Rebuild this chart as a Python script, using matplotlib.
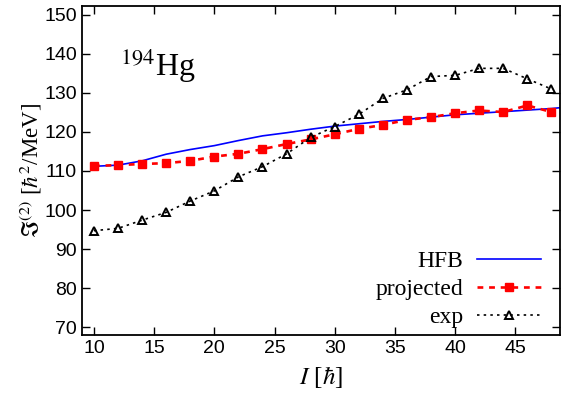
import numpy as np
import matplotlib
matplotlib.use('Agg')
import matplotlib.pyplot as plt

plt.rcParams['mathtext.fontset'] = 'stix'

# spin values
I_pts = [10, 12, 14, 16, 18, 20, 22, 24, 26, 28, 30, 32, 34, 36, 38, 40, 42, 44, 46, 48]

# HFB (smooth curve)
I_hfb = [10, 12, 14, 16, 18, 20, 22, 24, 26, 28, 30, 32, 34, 36, 38, 40, 42, 44, 46, 48, 49]
J_hfb = [111.2, 111.5, 112.6, 114.3, 115.5, 116.5, 117.8, 119.0, 119.8, 120.7, 121.5,
         122.1, 122.7, 123.2, 123.8, 124.4, 124.8, 125.2, 125.6, 126.0, 126.3]

# projected
J_proj = [111.3, 111.5, 111.8, 112.0, 112.6, 113.7, 114.4, 115.6, 116.9, 118.1,
          119.4, 120.8, 121.8, 123.1, 123.8, 124.8, 125.5, 125.1, 126.8, 125.1]

# experiment
J_exp = [94.7, 95.3, 97.4, 99.4, 102.3, 104.9, 108.5, 111.1, 114.4, 118.6,
         121.4, 124.5, 128.6, 130.8, 134.2, 134.5, 136.3, 136.3, 133.6, 131.0]

fig = plt.figure(figsize=(5.61, 3.94), dpi=100)
ax = fig.add_axes([0.146, 0.150, 0.852, 0.835])

ax.plot(I_hfb, J_hfb, '-', color='#0000ff', lw=1.2, label='HFB')
ax.plot(I_pts, J_proj, color='#ff0000', ls=(0, (2.2, 2.2)), lw=1.9, marker='s', ms=6,
        label='projected')
ax.plot(I_pts, J_exp, color='black', ls=(0, (1.5, 2.5)), lw=1.2, marker='^', ms=5.5,
        mfc='none', mec='black', mew=1.4, label='exp')

ax.set_xlim(9, 48.7)
ax.set_ylim(68, 152.3)
ax.set_xticks([10, 15, 20, 25, 30, 35, 40, 45])
ax.set_yticks(np.arange(70, 151, 10))
ax.tick_params(direction='in', top=True, right=True, length=6, width=1, labelsize=14)
for lab in ax.get_xticklabels() + ax.get_yticklabels():
    lab.set_family('Liberation Sans')
for s in ax.spines.values():
    s.set_linewidth(1.3)

ax.set_xlabel(r'$I$ [$\hbar$]', family='Liberation Serif', fontsize=18, labelpad=5)
ax.set_ylabel(r'$\Im^{(2)}$ [$\hbar^2$/MeV]', family='Liberation Serif', fontsize=16.5,
              labelpad=0)

ax.text(12.2, 134.3, r'$^{194}$Hg', family='Liberation Serif', fontsize=23)

ax.legend(loc='lower right', bbox_to_anchor=(0.975, 0.0), frameon=False,
          markerfirst=False, numpoints=1, handlelength=2.7,
          prop={'family': 'Liberation Serif', 'size': 17},
          labelspacing=0.27, borderaxespad=0.1, borderpad=0.2, handletextpad=0.6)

fig.savefig('out.png', dpi=100)
